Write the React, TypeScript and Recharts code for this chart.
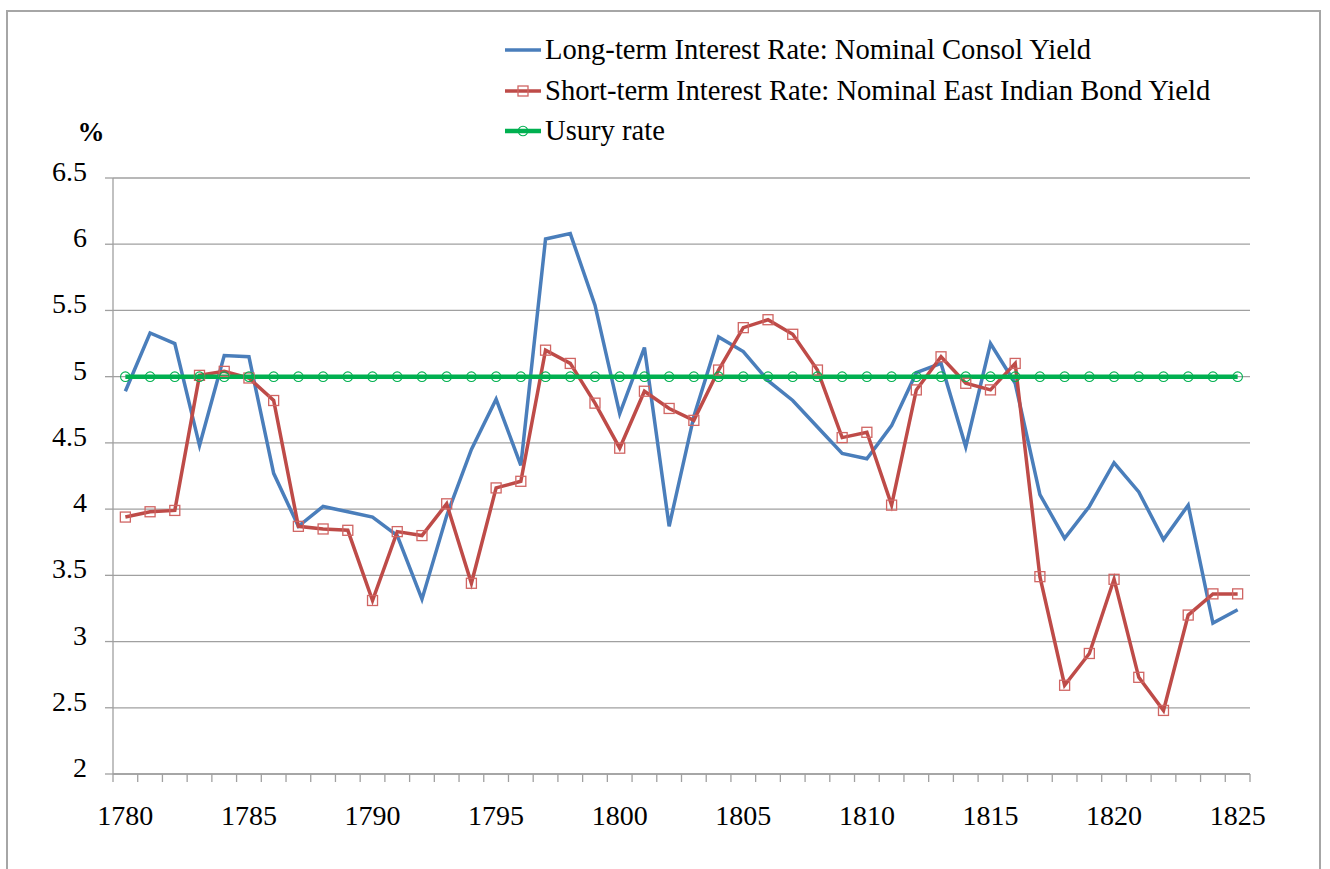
import { LineChart, Line, XAxis, YAxis, CartesianGrid, Legend } from 'recharts';

const years = [
  1780, 1781, 1782, 1783, 1784, 1785, 1786, 1787, 1788, 1789,
  1790, 1791, 1792, 1793, 1794, 1795, 1796, 1797, 1798, 1799,
  1800, 1801, 1802, 1803, 1804, 1805, 1806, 1807, 1808, 1809,
  1810, 1811, 1812, 1813, 1814, 1815, 1816, 1817, 1818, 1819,
  1820, 1821, 1822, 1823, 1824, 1825,
];

// long-term: consol yield
const consolYield = [
  4.89, 5.33, 5.25, 4.48, 5.16, 5.15, 4.27, 3.87, 4.02, 3.98,
  3.94, 3.8, 3.32, 3.95, 4.45, 4.83, 4.33, 6.04, 6.08, 5.54,
  4.72, 5.22, 3.87, 4.7, 5.3, 5.19, 4.97, 4.82, 4.62, 4.42,
  4.38, 4.63, 5.03, 5.1, 4.47, 5.25, 4.95, 4.11, 3.78, 4.02,
  4.35, 4.13, 3.77, 4.03, 3.14, 3.24,
];

// short-term: east india bond yield
const eastIndiaYield = [
  3.94, 3.98, 3.99, 5.01, 5.04, 4.99, 4.82, 3.87, 3.85, 3.84,
  3.31, 3.83, 3.8, 4.04, 3.44, 4.16, 4.21, 5.2, 5.1, 4.8,
  4.46, 4.89, 4.76, 4.67, 5.05, 5.37, 5.43, 5.32, 5.05, 4.54,
  4.58, 4.03, 4.9, 5.15, 4.95, 4.9, 5.1, 3.49, 2.67, 2.91,
  3.47, 2.73, 2.48, 3.2, 3.36, 3.36,
];

const usuryRate = [
  5, 5, 5, 5, 5, 5, 5, 5, 5, 5,
  5, 5, 5, 5, 5, 5, 5, 5, 5, 5,
  5, 5, 5, 5, 5, 5, 5, 5, 5, 5,
  5, 5, 5, 5, 5, 5, 5, 5, 5, 5,
  5, 5, 5, 5, 5, 5,
];

const yTicks = [2, 2.5, 3, 3.5, 4, 4.5, 5, 5.5, 6, 6.5];
const xLabelYears = [1780, 1785, 1790, 1795, 1800, 1805, 1810, 1815, 1820, 1825];

const seriesNames = [
  'Long-term Interest Rate: Nominal Consol Yield',
  'Short-term Interest Rate: Nominal East Indian Bond Yield',
  'Usury rate',
];

const data = years.map((year, i) => ({
  year,
  consol: consolYield[i],
  eastIndia: eastIndiaYield[i],
  usury: usuryRate[i],
}));

const BLUE = '#4A7EBB';
const RED = '#BE4B48';
const GREEN = '#00B050';
const GRID = '#A0A0A0';
const FONT = '"Liberation Serif", "Times New Roman", serif';

const PLOT_LEFT = 113;
const PLOT_RIGHT = 1250;
const STEP = (PLOT_RIGHT - PLOT_LEFT) / years.length;

function YearTick(props: any) {
  const { x, y, payload, index } = props;
  const half = STEP / 2;
  const last = index === years.length - 1;
  return (
    <g>
      <line x1={x - half} x2={x - half} y1={y} y2={y + 8} stroke={GRID} strokeWidth={1.3} />
      {last && <line x1={x + half} x2={x + half} y1={y} y2={y + 8} stroke={GRID} strokeWidth={1.3} />}
      {xLabelYears.includes(payload.value) && (
        <text x={x} y={y + 51} textAnchor="middle" fontFamily={FONT} fontSize={28} fill="#000">
          {payload.value}
        </text>
      )}
    </g>
  );
}

function RateTick(props: any) {
  const { x, y, payload } = props;
  return (
    <g>
      <line x1={x - 8} x2={x} y1={y} y2={y} stroke={GRID} strokeWidth={1.3} />
      <text x={x - 26} y={y + 3} textAnchor="end" fontFamily={FONT} fontSize={28} fill="#000">
        {payload.value}
      </text>
    </g>
  );
}

const SquareDot = (p: any) => {
  if (p.cx == null || p.cy == null) return <g key={`sq-${p.index}`} />;
  return (
    <rect key={`sq-${p.index}`} x={p.cx - 5} y={p.cy - 5} width={10} height={10}
      fill="none" stroke="#D06563" strokeWidth={1.3} />
  );
};

const CircleDot = (p: any) => {
  if (p.cx == null || p.cy == null) return <g key={`ci-${p.index}`} />;
  return (
    <circle key={`ci-${p.index}`} cx={p.cx} cy={p.cy} r={4.8}
      fill="none" stroke={GREEN} strokeWidth={1.1} />
  );
};

function LegendBox() {
  const rows = [
    { name: seriesNames[0], color: BLUE, marker: null },
    { name: seriesNames[1], color: RED, marker: 'square' },
    { name: seriesNames[2], color: GREEN, marker: 'circle' },
  ];
  return (
    <div style={{ fontFamily: FONT, fontSize: 28.6, color: '#000' }}>
      {rows.map((r) => (
        <div key={r.name} style={{ display: 'flex', alignItems: 'center', height: 40.5, whiteSpace: 'nowrap' }}>
          <svg width={40} height={40} style={{ flex: 'none' }}>
            <line x1={2} x2={38} y1={20} y2={20} stroke={r.color} strokeWidth={r.marker === 'circle' ? 4.5 : 3.5} />
            {r.marker === 'square' && (
              <rect x={15} y={15} width={10} height={10} fill="none" stroke="#D06563" strokeWidth={1.3} />
            )}
            {r.marker === 'circle' && (
              <circle cx={20} cy={20} r={4.8} fill="none" stroke={GREEN} strokeWidth={1.1} />
            )}
          </svg>
          <span style={{ marginLeft: 2 }}>{r.name}</span>
        </div>
      ))}
    </div>
  );
}

export default function App() {
  return (
    <div style={{ position: 'absolute', left: 0, top: 0, width: 1330, height: 869, overflow: 'hidden', background: '#fff' }}>
      <div style={{
        position: 'absolute', left: 6, top: 10, width: 1315, height: 900,
        border: '2px solid #A6A6A6', boxSizing: 'border-box',
      }} />
      <div style={{ position: 'absolute', left: 0, top: 0 }}>
        <LineChart width={1330} height={869} data={data}
          margin={{ top: 178, right: 80, bottom: 45, left: 53 }}>
          <CartesianGrid vertical={false} stroke={GRID} strokeWidth={1.3} />
          <XAxis dataKey="year" type="category" interval={0}
            padding={{ left: STEP / 2, right: STEP / 2 }}
            axisLine={{ stroke: GRID, strokeWidth: 1.3 }}
            tickLine={false} tickSize={0} tickMargin={0} height={50}
            tick={<YearTick />} />
          <YAxis type="number" domain={[2, 6.5]} ticks={yTicks} interval={0} width={60}
            axisLine={{ stroke: GRID, strokeWidth: 1.3 }}
            tickLine={false} tickSize={0} tickMargin={0}
            tick={<RateTick />}
            label={{
              value: '%',
              content: () => (
                <text x={91} y={141} textAnchor="middle" fontFamily={FONT} fontSize={27} fontWeight="bold" fill="#000">%</text>
              ),
            }} />
          <Legend layout="vertical" verticalAlign="middle" align="center"
            wrapperStyle={{ position: 'absolute', left: 503, top: 30, width: 800, height: 125 }}
            content={() => <LegendBox />} />
          <Line type="linear" dataKey="consol" name={seriesNames[0]} stroke={BLUE} strokeWidth={3.5}
            dot={false} activeDot={false} isAnimationActive={false} />
          <Line type="linear" dataKey="eastIndia" name={seriesNames[1]} stroke={RED} strokeWidth={3.5}
            dot={SquareDot} activeDot={false} isAnimationActive={false} />
          <Line type="linear" dataKey="usury" name={seriesNames[2]} stroke={GREEN} strokeWidth={4.5}
            dot={CircleDot} activeDot={false} isAnimationActive={false} />
        </LineChart>
      </div>
    </div>
  );
}
